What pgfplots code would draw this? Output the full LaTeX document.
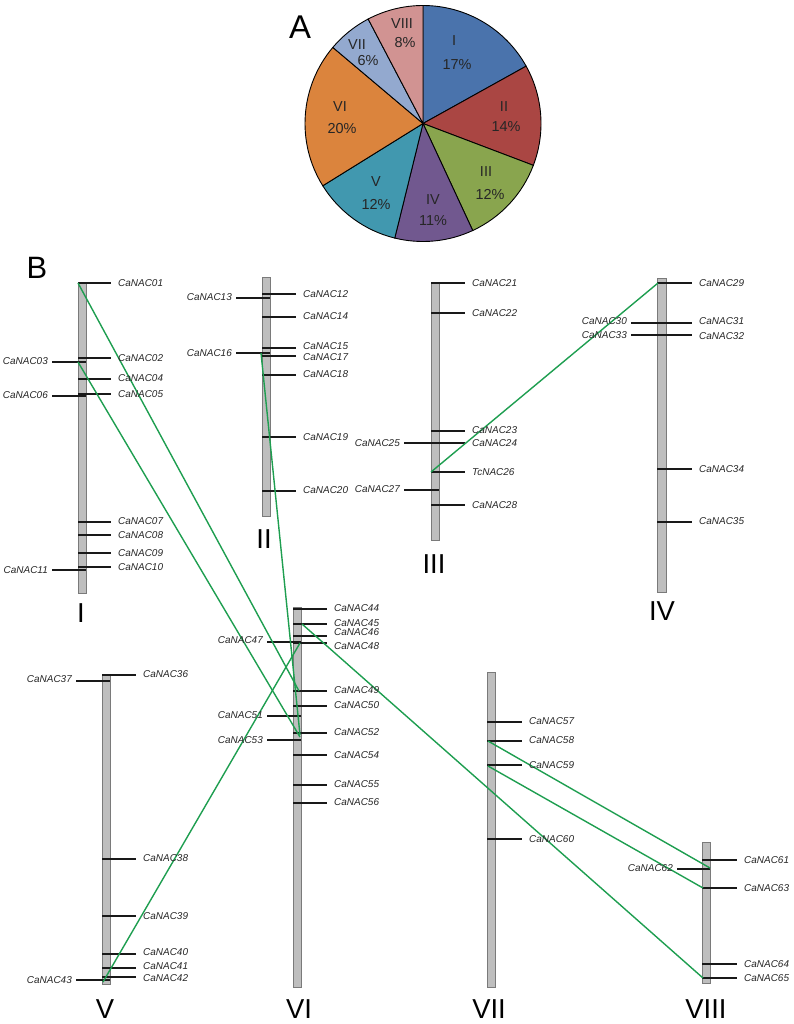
\documentclass[border=0pt]{standalone}
\usepackage{fontspec}
\setmainfont{Liberation Sans}
\usepackage{pgfplots}
\usepackage{pgfplotstable}
\pgfplotsset{compat=1.18}
\definecolor{cI}{HTML}{4A73AC}
\definecolor{cII}{HTML}{AA4643}
\definecolor{cIII}{HTML}{89A54E}
\definecolor{cIV}{HTML}{71588F}
\definecolor{cV}{HTML}{4198AF}
\definecolor{cVI}{HTML}{DB843D}
\definecolor{cVII}{HTML}{93A9CF}
\definecolor{cVIII}{HTML}{D19392}
\definecolor{barfill}{HTML}{BEBEBE}
\definecolor{bardraw}{HTML}{7A7A7A}
\definecolor{link}{HTML}{1E9E50}

% genes drawn on the right of a chromosome: line from x0 to x1 at y, label at ly
\pgfplotstableread{
x0 x1 y ly name
78 111 283 283.5 CaNAC01
78 111 358 358.5 CaNAC02
78 111 379 378.5 CaNAC04
78 111 394 394.0 CaNAC05
78 111 522 521.5 CaNAC07
78 111 535 535.0 CaNAC08
78 111 553 553.5 CaNAC09
78 111 567 567.0 CaNAC10
262 296 294 294.5 CaNAC12
262 296 317 316.5 CaNAC14
262 296 348 346.0 CaNAC15
262 296 356 357.5 CaNAC17
262 296 375 374.5 CaNAC18
262 296 437 437.0 CaNAC19
262 296 491 490.5 CaNAC20
431 465 283 283.0 CaNAC21
431 465 313 313.5 CaNAC22
431 465 431 430.5 CaNAC23
431 465 443 443.0 CaNAC24
431 465 472 472.5 TcNAC26
431 465 505 505.5 CaNAC28
657 692 283 283.0 CaNAC29
657 692 323 321.5 CaNAC31
657 692 335 336.0 CaNAC32
657 692 469 469.0 CaNAC34
657 692 522 521.5 CaNAC35
102 136 675 674.5 CaNAC36
102 136 859 858.5 CaNAC38
102 136 916 916.0 CaNAC39
102 136 954 952.5 CaNAC40
102 136 968 966.5 CaNAC41
102 136 977 978.5 CaNAC42
293 327 609 608.0 CaNAC44
293 327 624 623.0 CaNAC45
293 327 636 632.5 CaNAC46
293 327 643 646.0 CaNAC48
293 327 691 690.5 CaNAC49
293 327 706 705.5 CaNAC50
293 327 733 732.5 CaNAC52
293 327 755 755.5 CaNAC54
293 327 785 784.5 CaNAC55
293 327 803 802.5 CaNAC56
487 522 722 721.5 CaNAC57
487 522 741 740.5 CaNAC58
487 522 765 765.0 CaNAC59
487 522 839 839.5 CaNAC60
702 737 860 860.0 CaNAC61
702 737 888 888.0 CaNAC63
702 737 964 964.0 CaNAC64
702 737 978 978.0 CaNAC65
}\rightgenes

% genes drawn on the left of a chromosome
\pgfplotstableread{
x0 x1 y ly name
52 86 362 361.5 CaNAC03
52 86 396 395.5 CaNAC06
52 86 570 570.0 CaNAC11
236 270 298 297.5 CaNAC13
236 270 353 353.0 CaNAC16
404 439 443 443.0 CaNAC25
404 439 490 489.5 CaNAC27
631 666 323 321.5 CaNAC30
631 666 335 335.0 CaNAC33
76 110 681 679.5 CaNAC37
76 110 980 980.0 CaNAC43
267 301 642 640.5 CaNAC47
267 301 716 715.5 CaNAC51
267 301 740 740.0 CaNAC53
677 710 869 868.0 CaNAC62
}\leftgenes

\newcommand{\genefont}{\itshape\fontsize{10}{12}\selectfont}
\newcommand{\chrfont}{\fontsize{27.5}{30}\selectfont}
\newcommand{\piefont}{\fontsize{14.5}{17}\selectfont}

\begin{document}
\begin{tikzpicture}
\begin{axis}[
  scale only axis, width=793bp, height=1024bp,
  xmin=0, xmax=793, ymin=0, ymax=1024, y dir=reverse,
  hide axis, clip=false,
]
\path (axis cs:0,0) rectangle (axis cs:793,1024);

% ---------- pie chart (A) ----------
\def\cx{423}\def\cy{123.5}\def\R{118bp}
\draw[fill=cI, line width=0.9bp] (axis cs:\cx,\cy) -- ++(90:\R) arc[start angle=90, end angle=29.077, radius=\R] -- cycle;
\draw[fill=cII, line width=0.9bp] (axis cs:\cx,\cy) -- ++(29.077:\R) arc[start angle=29.077, end angle=-20.769, radius=\R] -- cycle;
\draw[fill=cIII, line width=0.9bp] (axis cs:\cx,\cy) -- ++(-20.769:\R) arc[start angle=-20.769, end angle=-65.077, radius=\R] -- cycle;
\draw[fill=cIV, line width=0.9bp] (axis cs:\cx,\cy) -- ++(-65.077:\R) arc[start angle=-65.077, end angle=-103.846, radius=\R] -- cycle;
\draw[fill=cV, line width=0.9bp] (axis cs:\cx,\cy) -- ++(-103.846:\R) arc[start angle=-103.846, end angle=-148.154, radius=\R] -- cycle;
\draw[fill=cVI, line width=0.9bp] (axis cs:\cx,\cy) -- ++(-148.154:\R) arc[start angle=-148.154, end angle=-220.154, radius=\R] -- cycle;
\draw[fill=cVII, line width=0.9bp] (axis cs:\cx,\cy) -- ++(-220.154:\R) arc[start angle=-220.154, end angle=-242.308, radius=\R] -- cycle;
\draw[fill=cVIII, line width=0.9bp] (axis cs:\cx,\cy) -- ++(-242.308:\R) arc[start angle=-242.308, end angle=-270, radius=\R] -- cycle;

\begin{scope}[every node/.style={font=\piefont, inner sep=0pt, text=black!85}]
\node at (axis cs:454,41) {I};    \node at (axis cs:457,65) {17\%};
\node at (axis cs:504,107) {II};  \node at (axis cs:506,127) {14\%};
\node at (axis cs:486,172) {III}; \node at (axis cs:490,194) {12\%};
\node at (axis cs:433,200) {IV};  \node at (axis cs:433,221) {11\%};
\node at (axis cs:376,182) {V};   \node at (axis cs:376,204) {12\%};
\node at (axis cs:340,107) {VI};  \node at (axis cs:342,129) {20\%};
\node at (axis cs:357,45) {VII};  \node at (axis cs:368,61) {6\%};
\node at (axis cs:402,24) {VIII}; \node at (axis cs:405,43) {8\%};
\end{scope}

\node[font=\fontsize{33}{35}\selectfont, inner sep=0pt] at (axis cs:300,27) {A};
\node[font=\fontsize{31}{33}\selectfont, inner sep=0pt] at (axis cs:37,268) {B};

% ---------- chromosomes (B) ----------
\pgfplotsset{chr/.style={fill=barfill, draw=bardraw, line width=1bp, line join=miter, mark=none}}
\addplot[chr] coordinates {(78,283) (86,283) (86,593) (78,593) (78,283)};
\addplot[chr] coordinates {(262,277) (270,277) (270,516) (262,516) (262,277)};
\addplot[chr] coordinates {(431,282) (439,282) (439,540) (431,540) (431,282)};
\addplot[chr] coordinates {(657,278) (666,278) (666,592) (657,592) (657,278)};
\addplot[chr] coordinates {(102,674) (110,674) (110,984) (102,984) (102,674)};
\addplot[chr] coordinates {(293,607) (301,607) (301,987) (293,987) (293,607)};
\addplot[chr] coordinates {(487,672) (495,672) (495,987) (487,987) (487,672)};
\addplot[chr] coordinates {(702,842) (710,842) (710,983) (702,983) (702,842)};

% gene tick lines
\addplot[black!90, line width=1.3bp, quiver={u=\thisrow{x1}-\thisrow{x0}, v=0}, mark=none]
  table[x=x0, y=y] {\rightgenes};
\addplot[black!90, line width=1.3bp, quiver={u=\thisrow{x1}-\thisrow{x0}, v=0}, mark=none]
  table[x=x0, y=y] {\leftgenes};

% gene names
\addplot[only marks, mark=none, nodes near coords, point meta=explicit symbolic,
  every node near coord/.append style={anchor=west, xshift=7bp, font=\genefont, inner sep=0pt, text=black!85}]
  table[x=x1, y=ly, meta=name] {\rightgenes};
\addplot[only marks, mark=none, nodes near coords, point meta=explicit symbolic,
  every node near coord/.append style={anchor=east, xshift=-4bp, font=\genefont, inner sep=0pt, text=black!85}]
  table[x=x0, y=ly, meta=name] {\leftgenes};

% segmental duplication links
\pgfplotsset{dup/.style={link, line width=1.4bp, mark=none}}
\addplot[dup] coordinates {(78,283) (299,691)};
\addplot[dup] coordinates {(78,362) (300,737)};
\addplot[dup] coordinates {(261,353) (300,735)};
\addplot[dup] coordinates {(431,472) (658,283)};
\addplot[dup] coordinates {(103,982) (300,643)};
\addplot[dup] coordinates {(302,624) (703,978)};
\addplot[dup] coordinates {(488,741) (710,868)};
\addplot[dup] coordinates {(488,766) (703,888)};

% chromosome names
\begin{scope}[every node/.style={font=\chrfont, inner sep=0pt}]
\node at (axis cs:81,613) {I};
\node at (axis cs:264,539) {II};
\node at (axis cs:434,564) {III};
\node at (axis cs:662,611) {IV};
\node at (axis cs:105,1009) {V};
\node at (axis cs:299,1009) {VI};
\node at (axis cs:489,1009) {VII};
\node at (axis cs:706,1009) {VIII};
\end{scope}
\end{axis}
\end{tikzpicture}
\end{document}
